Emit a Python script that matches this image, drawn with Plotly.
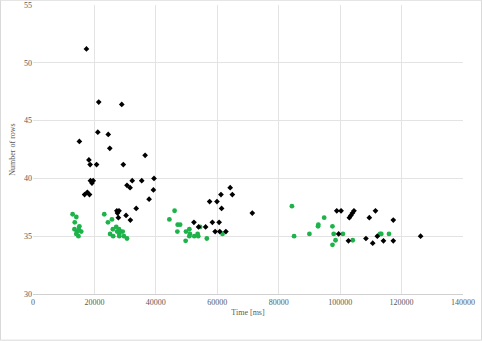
import plotly.graph_objects as go

# Series 1 (black diamonds)
black_x = [17400, 21400, 28900, 21100, 24500, 15100, 25000, 36500, 18200, 18600,
           20700, 29400, 18700, 19600, 19200, 32300, 30600, 31600, 16800, 17700,
           18400, 27300, 28000, 27500, 33600, 27800, 30300, 31700, 35400, 39400,
           39200, 37800, 52400, 53900, 56200, 57500, 59900, 58400, 60600, 59300,
           60800, 62800, 61200, 61400, 64200, 64900, 71400, 98900, 100300, 103000,
           103500, 104000, 104500, 111500, 109500, 117300, 99500, 102700, 108400, 110600,
           112100, 114100, 117300, 126200]
black_y = [51.2, 46.6, 46.4, 44.0, 43.8, 43.2, 42.6, 42.0, 41.6, 41.2,
           41.2, 41.2, 39.8, 39.8, 39.6, 39.8, 39.4, 39.2, 38.6, 38.8,
           38.6, 37.2, 37.2, 37.0, 37.4, 36.6, 36.8, 36.4, 39.8, 40.0,
           39.0, 38.2, 36.2, 35.8, 35.8, 38.0, 38.0, 36.2, 36.2, 35.4,
           35.4, 35.4, 38.6, 37.4, 39.2, 38.6, 37.0, 37.2, 37.2, 36.6,
           36.8, 37.0, 37.2, 37.2, 36.6, 36.4, 35.2, 34.6, 34.8, 34.4,
           35.0, 34.6, 34.6, 35.0]

# Series 2 (green circles)
green_x = [12900, 14100, 13600, 13500, 14400, 14100, 14800, 15100, 15700, 14900,
           23200, 25700, 24400, 27100, 26000, 28000, 25100, 26100, 27400, 28400,
           29200, 28100, 28100, 29600, 30600,
           44400, 46100, 47100, 47900, 47000, 49700, 49800, 50900, 51100, 50900,
           52500, 53800, 53600, 54400, 56600, 61700,
           84300, 85000, 90000, 92900, 92800, 94800, 97500, 97900, 97500, 98500,
           100900, 104100, 113000, 113400, 115900]
green_y = [36.9, 36.66, 36.2, 35.6, 35.4, 35.2, 35.0, 35.85, 35.4, 35.6,
           36.9, 36.45, 36.2, 35.8, 35.6, 35.6, 35.2, 35.0, 35.4, 35.4,
           35.4, 35.2, 35.0, 35.0, 34.8,
           36.45, 37.2, 36.0, 36.0, 35.4, 34.6, 35.4, 35.6, 35.2, 35.0,
           35.0, 35.0, 35.2, 35.8, 34.8, 35.2,
           37.6, 35.0, 35.2, 36.0, 35.85, 36.6, 35.85, 35.2, 34.25, 34.65,
           35.2, 34.65, 35.2, 35.2, 35.2]

x_ticks = [0, 20000, 40000, 60000, 80000, 100000, 120000, 140000]
y_ticks = [30, 35, 40, 45, 50, 55]

TXT = '#595959'

fig = go.Figure()

fig.add_trace(go.Scatter(
    x=green_x, y=green_y, mode='markers',
    marker=dict(symbol='circle', size=4.8, color='#1db34a'),
    showlegend=False
))
fig.add_trace(go.Scatter(
    x=black_x, y=black_y, mode='markers',
    marker=dict(symbol='diamond', size=4.4, color='black'),
    showlegend=False
))

# outer chart border
fig.add_shape(type='rect', xref='paper', yref='paper',
              x0=-32.5 / 430, x1=448.5 / 430, y0=-46.2 / 289, y1=293.8 / 289,
              line=dict(color='#d9d9d9', width=1), fillcolor='rgba(0,0,0,0)')

fig.update_layout(
    width=482, height=341, autosize=False,
    margin=dict(l=33, r=19, t=5, b=47, autoexpand=False),
    paper_bgcolor='white', plot_bgcolor='white',
    font=dict(family='Liberation Serif', size=8, color=TXT),
    xaxis=dict(
        range=[0, 140000], tickvals=x_ticks, tickformat='d',
        tickfont=dict(family='Liberation Serif', size=8, color=TXT),
        showgrid=True, gridcolor='#e3e3e3', gridwidth=1,
        zeroline=False, showline=True, linecolor='#d0d0d0',
        ticks='', automargin=False,
        title=dict(text='Time [ms]', standoff=3,
                   font=dict(family='Liberation Serif', size=8, color=TXT)),
    ),
    yaxis=dict(
        range=[30, 55], tickvals=y_ticks,
        tickfont=dict(family='Liberation Serif', size=8, color=TXT),
        showgrid=True, gridcolor='#e3e3e3', gridwidth=1,
        zeroline=False, showline=False,
        ticks='', automargin=False,
        title=dict(text='Number of rows', standoff=7,
                   font=dict(family='Liberation Serif', size=8, color=TXT)),
    ),
)

fig.write_html("out.html", config={'displayModeBar': False},
               post_script="document.body.style.margin='0';")
